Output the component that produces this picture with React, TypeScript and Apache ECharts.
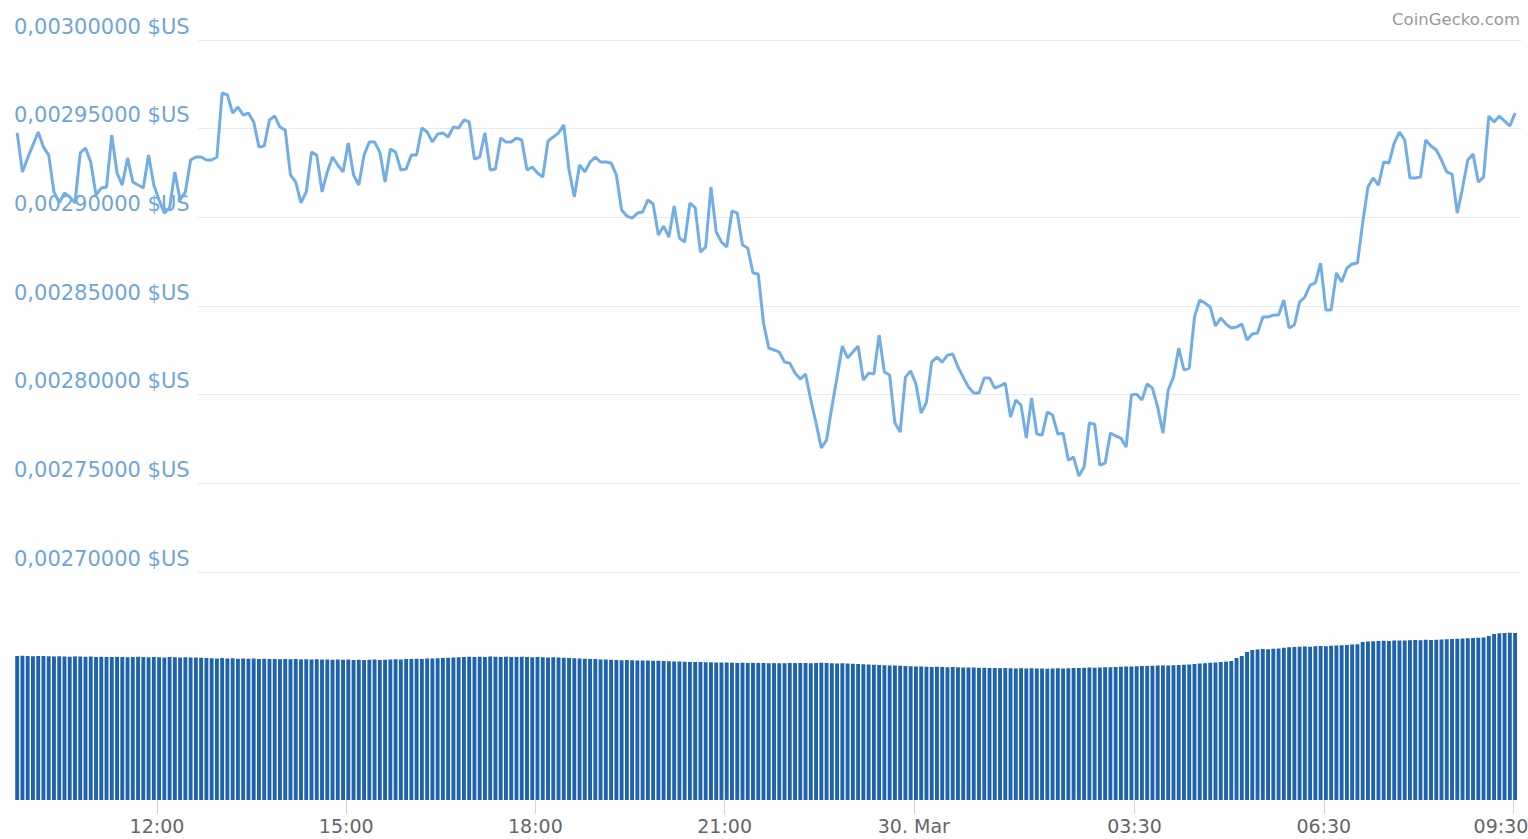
import React, { useEffect, useRef } from "react";
import * as echarts from "echarts";

// Price in $US, one value every 5 minutes starting 29 Mar 09:47
const START_HOUR = 9 + 47 / 60;
const STEP_MINUTES = 5;

const prices: number[] = [
  0.0029476, 0.0029256, 0.0029335, 0.0029408, 0.0029481, 0.0029397, 0.0029351, 0.0029143, 0.0029081, 0.0029137,
  0.0029115, 0.0029081, 0.0029363, 0.0029391, 0.0029312, 0.0029126, 0.0029165, 0.0029171, 0.0029464, 0.002925,
  0.0029182, 0.0029335, 0.0029199, 0.0029182, 0.0029165, 0.0029351, 0.0029182, 0.0029098, 0.0029024, 0.0029053,
  0.0029256, 0.0029098, 0.0029143, 0.0029323, 0.002934, 0.002934, 0.0029323, 0.0029323, 0.002934,
  0.0029701, 0.002969, 0.0029588, 0.0029622, 0.0029577, 0.0029588, 0.0029538, 0.0029397, 0.0029402, 0.0029549,
  0.0029571, 0.0029509, 0.0029492, 0.0029239, 0.0029199, 0.0029081, 0.0029143, 0.0029368, 0.0029351, 0.0029143,
  0.0029256, 0.002934, 0.0029295, 0.0029256, 0.0029419, 0.0029239, 0.0029182, 0.0029351, 0.0029425, 0.0029425,
  0.0029368, 0.0029199, 0.0029385, 0.0029368, 0.0029267, 0.0029272, 0.0029351, 0.0029351, 0.0029504, 0.0029481, 0.0029425,
  0.002947, 0.0029476, 0.0029453, 0.0029509, 0.0029504, 0.0029549, 0.0029538, 0.0029329, 0.002934, 0.0029476,
  0.0029267, 0.0029272, 0.0029447, 0.0029425, 0.0029425, 0.0029447, 0.0029436, 0.0029267, 0.0029284, 0.002925,
  0.0029227, 0.002943, 0.0029453, 0.0029476, 0.0029521, 0.0029267, 0.0029115, 0.0029295, 0.0029256, 0.0029312,
  0.002934, 0.0029312, 0.0029312, 0.0029306, 0.0029239, 0.0029041, 0.0029007, 0.0028996, 0.0029024, 0.002903,
  0.0029098, 0.0029075, 0.00289, 0.0028951, 0.0028889, 0.0029064, 0.0028883, 0.0028861, 0.0029081, 0.0029053,
  0.0028804, 0.0028833, 0.0029171, 0.0028917, 0.0028861, 0.0028833, 0.0029036, 0.0029024, 0.0028844, 0.0028827,
  0.0028686, 0.002868, 0.0028404, 0.0028263, 0.0028252, 0.002824, 0.0028184, 0.0028178, 0.0028122, 0.0028088,
  0.0028116, 0.002797, 0.002784, 0.0027699, 0.0027744, 0.002793, 0.0028099, 0.0028274, 0.0028207, 0.002824,
  0.0028274, 0.0028082, 0.0028122, 0.0028116, 0.0028336, 0.0028128, 0.0028111, 0.002784, 0.0027789, 0.0028099,
  0.0028133, 0.002806, 0.0027896, 0.0027958, 0.0028184, 0.0028212, 0.0028184, 0.0028223, 0.0028229, 0.0028156,
  0.0028099, 0.0028043, 0.0028009, 0.0028009, 0.0028094, 0.0028094, 0.0028037, 0.0028049, 0.0028065, 0.0027874,
  0.002797, 0.0027941, 0.0027755, 0.0027981, 0.0027778, 0.0027772, 0.0027902, 0.0027885, 0.0027778, 0.0027783,
  0.0027631, 0.0027648, 0.0027541, 0.0027592, 0.002784, 0.0027834, 0.0027603, 0.0027614, 0.0027783, 0.0027767,
  0.0027755, 0.0027705, 0.0027998, 0.0028003, 0.002797, 0.002806, 0.0028037, 0.002793, 0.0027783, 0.0028026,
  0.0028099, 0.0028263, 0.0028139, 0.002815, 0.0028438, 0.0028534, 0.0028517, 0.0028494, 0.0028387, 0.0028432,
  0.0028398, 0.0028376, 0.0028381, 0.0028398, 0.0028308, 0.0028342, 0.0028348, 0.0028438, 0.0028438, 0.0028449,
  0.0028449, 0.0028534, 0.0028376, 0.0028393, 0.0028522, 0.0028551, 0.0028618, 0.002863, 0.0028742, 0.0028477,
  0.0028477, 0.0028686, 0.0028635, 0.0028714, 0.0028737, 0.0028742, 0.0028968, 0.0029171, 0.0029222, 0.0029182,
  0.0029312, 0.0029306, 0.0029419, 0.0029481, 0.0029436, 0.0029222, 0.0029222, 0.0029227, 0.0029436, 0.0029402,
  0.002938, 0.0029323, 0.0029256, 0.0029244, 0.0029024, 0.0029165, 0.0029323, 0.0029357, 0.0029199, 0.0029227,
  0.0029571, 0.0029538, 0.0029571, 0.0029543, 0.0029515, 0.0029588,
];

// Volume in thousands of $US, same timestamps
const volumes: number[] = [
  1440, 1442, 1440, 1438, 1441, 1440, 1437, 1436, 1438, 1435,
  1433, 1436, 1434, 1432, 1435, 1430, 1433, 1431, 1429, 1432,
  1430, 1428, 1431, 1433, 1429, 1427, 1430, 1428, 1426, 1429,
  1427, 1425, 1428, 1426, 1424, 1422, 1420, 1418, 1416, 1419,
  1415, 1417, 1413, 1416, 1412, 1414, 1410, 1413, 1409, 1411,
  1408, 1410, 1407, 1409, 1406, 1408, 1405, 1407, 1404, 1406,
  1403, 1405, 1402, 1404, 1401, 1403, 1400, 1402, 1404, 1401,
  1403, 1405, 1408, 1406, 1409, 1411, 1413, 1410, 1414, 1416,
  1418, 1421, 1423, 1426, 1428, 1430, 1432, 1429, 1433, 1431,
  1434, 1432, 1430, 1433, 1431, 1429, 1432, 1430, 1428, 1431,
  1427, 1425, 1428, 1424, 1422, 1420, 1418, 1415, 1413, 1411,
  1409, 1406, 1404, 1402, 1400, 1398, 1399, 1397, 1395, 1396,
  1394, 1392, 1393, 1390, 1388, 1386, 1384, 1382, 1380, 1381,
  1379, 1377, 1378, 1376, 1374, 1375, 1373, 1371, 1372, 1370,
  1371, 1369, 1370, 1368, 1369, 1367, 1368, 1370, 1369, 1371,
  1369, 1368, 1370, 1372, 1370, 1368, 1366, 1367, 1365, 1363,
  1361, 1358, 1356, 1353, 1350, 1348, 1346, 1344, 1342, 1340,
  1338, 1336, 1334, 1333, 1331, 1332, 1330, 1328, 1329, 1327,
  1325, 1326, 1324, 1322, 1323, 1321, 1320, 1318, 1319, 1317,
  1316, 1318, 1315, 1317, 1314, 1316, 1313, 1315, 1317, 1316,
  1318, 1320, 1319, 1322, 1324, 1323, 1326, 1328, 1327, 1330,
  1332, 1334, 1336, 1338, 1340, 1339, 1342, 1344, 1346, 1345,
  1348, 1350, 1353, 1356, 1360, 1364, 1368, 1372, 1376, 1380,
  1384, 1390, 1420, 1440, 1480, 1500, 1505, 1510, 1508, 1512,
  1515, 1522, 1528, 1530, 1532, 1535, 1533, 1537, 1540, 1538,
  1542, 1545, 1548, 1551, 1555, 1558, 1580, 1585, 1588, 1590,
  1592, 1590, 1594, 1596, 1595, 1598, 1600, 1598, 1602, 1600,
  1603, 1605, 1608, 1610, 1612, 1615, 1618, 1620, 1622, 1625,
  1640, 1660, 1668, 1670, 1672, 1670,
];

// x-axis tick positions, in hours from 29 Mar 00:00
const tickHours: number[] = [12, 15, 18, 21, 24, 27.5, 30.5, 33.5];
const X_MIN = 9.733;
const X_MAX = 33.627;

const PRICE_MIN = 0.0027;
const PRICE_MAX = 0.003;
const PRICE_STEP = 0.00005;
const VOLUME_MAX = 2000;

function fmtHour(v: number): string {
  if (Math.abs(v - 24) < 1e-6) return "30. Mar";
  const h = Math.floor(v % 24);
  const m = Math.round((v - Math.floor(v)) * 60);
  const s = String(h).padStart(2, "0") + ":" + String(m).padStart(2, "0");
  if (Math.abs(v - tickHours[tickHours.length - 1]) < 1e-6) return "{last|" + s + "}";
  return s;
}

export default function App() {
  const ref = useRef<HTMLDivElement>(null);
  useEffect(() => {
    if (!ref.current) return;
    const chart = echarts.init(ref.current, undefined, { renderer: "svg" });
    const times = prices.map((_, i) => START_HOUR + (i * STEP_MINUTES) / 60);
    const priceData = prices.map((p, i) => [times[i], p]);
    const volData = volumes.map((v, i) => [times[i], v]);
    const font = "DejaVu Sans";
    chart.setOption({
      animation: false,
      backgroundColor: "#ffffff",
      grid: [
        { left: 14, right: 7, top: 40, height: 532, outerBoundsMode: "none", containLabel: false },
        { left: 14, right: 7, top: 600, bottom: 39, outerBoundsMode: "none", containLabel: false },
        { left: 198, right: 7, top: 40, height: 532, outerBoundsMode: "none", containLabel: false },
      ],
      xAxis: [
        { type: "value", gridIndex: 0, min: X_MIN, max: X_MAX, show: false },
        {
          type: "value",
          gridIndex: 1,
          min: X_MIN,
          max: X_MAX,
          splitLine: { show: false },
          axisLine: { show: false },
          axisTick: {
            show: true,
            customValues: tickHours,
            length: 14,
            lineStyle: { color: "#ccd6eb", width: 1 },
          },
          axisLabel: {
            customValues: tickHours,
            formatter: fmtHour,
            color: "#666666",
            fontFamily: font,
            fontSize: 19,
            margin: 16,
            rich: {
              last: { color: "#666666", fontFamily: font, fontSize: 19, padding: [0, 24, 0, 0] },
            },
          },
        },
        { type: "value", gridIndex: 2, min: 0, max: 1, show: false },
      ],
      yAxis: [
        {
          type: "value",
          gridIndex: 0,
          min: PRICE_MIN,
          max: PRICE_MAX,
          interval: PRICE_STEP,
          splitLine: { show: false },
          axisLine: { show: false },
          axisTick: { show: false },
          axisLabel: {
            inside: true,
            margin: 0,
            verticalAlign: "bottom",
            padding: [0, 0, 3, 0],
            color: "#6ea5da",
            fontFamily: font,
            fontSize: 21,
            formatter: (v: number) => v.toFixed(8).replace(".", ",") + " $US",
          },
        },
        {
          type: "value",
          gridIndex: 1,
          min: 0,
          max: VOLUME_MAX,
          show: false,
        },
        {
          type: "value",
          gridIndex: 2,
          min: PRICE_MIN,
          max: PRICE_MAX,
          interval: PRICE_STEP,
          axisLine: { show: false },
          axisTick: { show: false },
          axisLabel: { show: false },
          splitLine: { show: true, lineStyle: { color: "#e9e9e9", width: 1 } },
        },
      ],
      series: [
        {
          type: "bar",
          name: "Volume",
          xAxisIndex: 1,
          yAxisIndex: 1,
          data: volData,
          barWidth: 3.9,
          itemStyle: { color: "#1f63ad" },
          silent: true,
        },
        {
          type: "line",
          name: "Price",
          xAxisIndex: 0,
          yAxisIndex: 0,
          data: priceData,
          showSymbol: false,
          symbol: "none",
          lineStyle: { color: "#72aee6", width: 3 },
          z: 5,
          silent: true,
        },
      ],
      graphic: [
        {
          type: "text",
          right: 8,
          top: 11,
          style: { text: "CoinGecko.com", fill: "#999999", font: "16.5px DejaVu Sans" },
        },
      ],
    });
    return () => chart.dispose();
  }, []);
  return (
    <div
      ref={ref}
      style={{ position: "fixed", left: 0, top: 0, width: 1528, height: 839, background: "#fff" }}
    />
  );
}
